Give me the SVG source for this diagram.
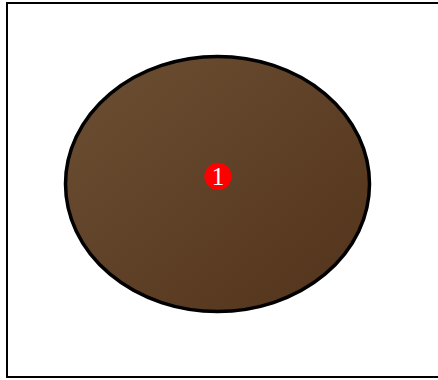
<svg xmlns="http://www.w3.org/2000/svg" width="438" height="380" viewBox="0 0 438 380">
<defs>
<linearGradient id="g" x1="0" y1="0" x2="1" y2="1">
<stop offset="0" stop-color="#6c4f33"/>
<stop offset="1" stop-color="#52331b"/>
</linearGradient>
<style>
.frame{fill:#fff;stroke:#000;stroke-width:2}
.blob{fill:url(#g);stroke:#000;stroke-width:3.5}
.badge{fill:#ff0000}
.num{fill:#fff;font-family:"Liberation Serif",serif;font-size:25px;text-anchor:middle}
</style>
</defs>
<rect class="frame" x="7" y="3" width="440" height="374"/>
<g id="node1">
<ellipse class="blob" cx="217.5" cy="184" rx="152" ry="127.5"/>
<circle class="badge" cx="218" cy="176.3" r="13.6"/>
<text class="num" x="218" y="184.5">1</text>
</g>
<g id="connectors"></g>
</svg>
